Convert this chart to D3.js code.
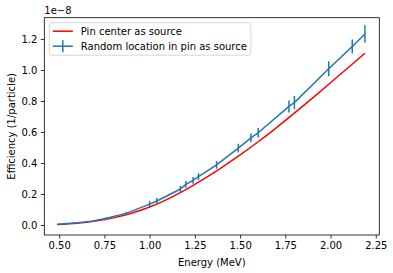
<!DOCTYPE html>
<html>
<head>
<meta charset="utf-8">
<script src="https://cdn.jsdelivr.net/npm/d3@7"></script>
<style>
  body { margin: 0; background: #fff; }
  svg { font-family: "DejaVu Sans", sans-serif; }
</style>
</head>
<body>
<div id="chart"></div>
<script>
// Pin center as source (smooth curve), values in 1e-8
var centerEnergy = [0.49, 0.6, 0.7, 0.8, 0.9, 1.0, 1.1, 1.2, 1.3, 1.4, 1.5, 1.6, 1.7, 1.8, 1.9, 2.0, 2.1, 2.19];
var centerEff = [0.003, 0.011, 0.025, 0.046, 0.076, 0.116, 0.167, 0.228, 0.297, 0.372, 0.452, 0.537, 0.627, 0.722, 0.819, 0.918, 1.018, 1.108];

// Random location in pin as source, with error bars
var randEnergy = [0.49, 0.6, 0.68, 0.76, 0.87, 1.0, 1.04, 1.17, 1.2, 1.24, 1.27, 1.37, 1.49, 1.56, 1.6, 1.77, 1.8, 1.99, 2.12, 2.19];
var randEff = [0.005, 0.015, 0.025, 0.043, 0.075, 0.135, 0.155, 0.232, 0.262, 0.288, 0.312, 0.388, 0.496, 0.562, 0.595, 0.765, 0.790, 1.008, 1.152, 1.232];
var randErr = [0.001, 0.002, 0.003, 0.006, 0.010, 0.02, 0.02, 0.02, 0.022, 0.022, 0.022, 0.025, 0.028, 0.028, 0.03, 0.039, 0.043, 0.048, 0.045, 0.056];

var xTicks = [0.5, 0.75, 1.0, 1.25, 1.5, 1.75, 2.0, 2.25];
var yTicks = [0.0, 0.2, 0.4, 0.6, 0.8, 1.0, 1.2];

var W = 393, H = 273;
var m = { left: 44.3, right: 379.3, top: 17.7, bottom: 235 };

var svg = d3.select("#chart").append("svg")
    .attr("width", W)
    .attr("height", H);

var x = d3.scaleLinear().domain([0.4176, 2.2695]).range([m.left, m.right]);
var y = d3.scaleLinear().domain([-0.0645, 1.3374]).range([m.bottom, m.top]);

svg.append("clipPath").attr("id", "clip")
    .append("rect")
    .attr("x", m.left).attr("y", m.top)
    .attr("width", m.right - m.left).attr("height", m.bottom - m.top);

// axes
var xAxis = svg.append("g")
    .attr("transform", "translate(0," + m.bottom + ")")
    .call(d3.axisBottom(x).tickValues(xTicks).tickSize(3.5).tickPadding(3.5).tickFormat(d3.format(".2f")));
var yAxis = svg.append("g")
    .attr("transform", "translate(" + m.left + ",0)")
    .call(d3.axisLeft(y).tickValues(yTicks).tickSize(3.5).tickPadding(3.5).tickFormat(d3.format(".1f")));

[xAxis, yAxis].forEach(function(a) {
    a.select(".domain").remove();
    a.selectAll(".tick line").attr("stroke", "#000").attr("stroke-width", 0.8);
    a.selectAll(".tick text").attr("fill", "#000").style("font-size", "10px").style("font-family", "DejaVu Sans");
});

var plot = svg.append("g").attr("clip-path", "url(#clip)");

var line = d3.line()
    .x(function(d) { return x(d[0]); })
    .y(function(d) { return y(d[1]); });

// red curve
plot.append("path")
    .datum(centerEnergy.map(function(e, i) { return [e, centerEff[i]]; }))
    .attr("d", line.curve(d3.curveMonotoneX))
    .attr("fill", "none")
    .attr("stroke", "#ff0000")
    .attr("stroke-width", 1.5);

// blue line with error bars
var randData = randEnergy.map(function(e, i) { return [e, randEff[i], randErr[i]]; });
plot.append("path")
    .datum(randData)
    .attr("d", line.curve(d3.curveLinear))
    .attr("fill", "none")
    .attr("stroke", "#1f77b4")
    .attr("stroke-width", 1.5);

plot.selectAll(".err")
    .data(randData)
    .enter().append("line")
    .attr("class", "err")
    .attr("x1", function(d) { return x(d[0]); })
    .attr("x2", function(d) { return x(d[0]); })
    .attr("y1", function(d) { return y(d[1] - d[2]); })
    .attr("y2", function(d) { return y(d[1] + d[2]); })
    .attr("stroke", "#1f77b4")
    .attr("stroke-width", 1.5);

// frame
svg.append("rect")
    .attr("x", m.left).attr("y", m.top)
    .attr("width", m.right - m.left).attr("height", m.bottom - m.top)
    .attr("fill", "none")
    .attr("stroke", "#000")
    .attr("stroke-width", 0.8);

// offset text
svg.append("text")
    .attr("x", m.left)
    .attr("y", m.top - 4)
    .style("font-size", "10px")
    .text("1e\u22128");

// axis labels
svg.append("text")
    .attr("x", (m.left + m.right) / 2)
    .attr("y", 266)
    .attr("text-anchor", "middle")
    .style("font-size", "10px")
    .text("Energy (MeV)");

svg.append("text")
    .attr("transform", "translate(15," + ((m.top + m.bottom) / 2) + ") rotate(-90)")
    .attr("text-anchor", "middle")
    .style("font-size", "10px")
    .text("Efficiency (1/particle)");

// legend
var lg = svg.append("g").attr("transform", "translate(49.3,22.7)");
lg.append("rect")
    .attr("width", 201.5).attr("height", 32.5)
    .attr("rx", 2.5)
    .attr("fill", "#fff").attr("fill-opacity", 0.8)
    .attr("stroke", "#cccccc").attr("stroke-width", 0.8);

var items = [
    { label: "Pin center as source", color: "#ff0000", err: false },
    { label: "Random location in pin as source", color: "#1f77b4", err: true }
];
items.forEach(function(it, i) {
    var yy = 8.5 + i * 15;
    lg.append("line")
        .attr("x1", 3.5).attr("x2", 23.5)
        .attr("y1", yy).attr("y2", yy)
        .attr("stroke", it.color).attr("stroke-width", 1.5);
    if (it.err) {
        lg.append("line")
            .attr("x1", 13.5).attr("x2", 13.5)
            .attr("y1", yy - 6).attr("y2", yy + 6)
            .attr("stroke", it.color).attr("stroke-width", 1.5);
    }
    lg.append("text")
        .attr("x", 31.5).attr("y", yy + 3.5)
        .style("font-size", "10px")
        .text(it.label);
});
</script>
</body>
</html>
